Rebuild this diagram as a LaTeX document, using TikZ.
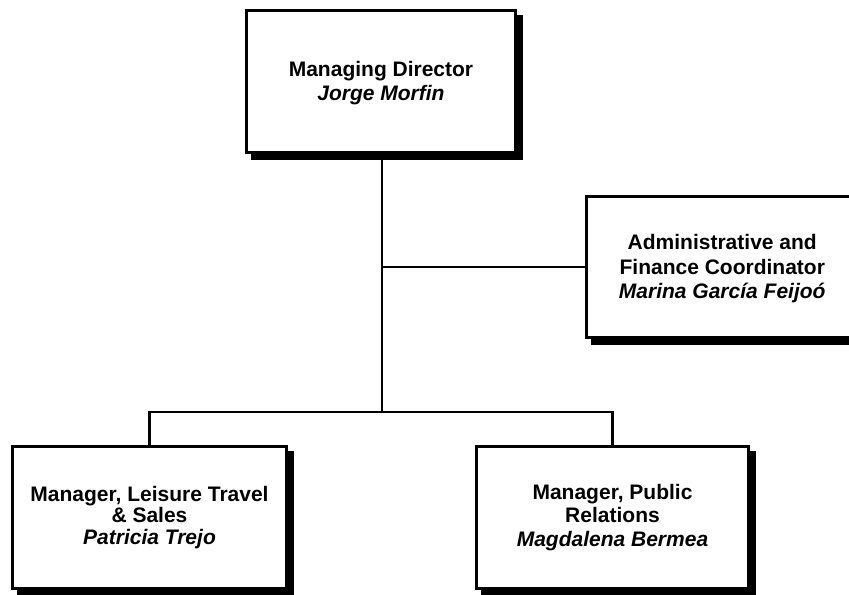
\documentclass[tikz,border=0pt]{standalone}
\usepackage{fontspec}
\setmainfont{Liberation Sans}
\usetikzlibrary{shadows}
\tikzset{
  orgbox/.style={draw=black, fill=white, line width=1.95pt, inner sep=0pt,
    align=center, font=\bfseries\fontsize{15.75pt}{16pt}\selectfont,
    drop shadow={shadow xshift=4.8pt, shadow yshift=-4.8pt, fill=black,
      draw=black, line width=1.95pt, opacity=1}},
  conn/.style={line width=2pt, draw=black}
}
\newcommand{\pname}[1]{{\itshape #1}}
\begin{document}
\begin{tikzpicture}[x=0.75pt,y=-0.75pt]
\useasboundingbox (0,0) rectangle (849,594);
\clip (0,0) rectangle (849,594);
\fill[white] (0,0) rectangle (849,594);
\node[orgbox, minimum width=269.5*0.75pt, minimum height=142.5*0.75pt,
  font=\bfseries\fontsize{15.75pt}{17.6pt}\selectfont]
  (top) at (381,81.5) {\rule{0pt}{14pt}Managing Director\\\pname{Jorge Morfin}};
\node[orgbox, minimum width=272*0.75pt, minimum height=141.5*0.75pt,
  font=\bfseries\fontsize{15.75pt}{18.4pt}\selectfont]
  (adm) at (722.25,267) {\rule{0pt}{14pt}Administrative and\\Finance Coordinator\\\pname{Marina García Feijoó}};
\node[orgbox, minimum width=274.5*0.75pt, minimum height=142.5*0.75pt,
  font=\bfseries\fontsize{15.75pt}{16.3pt}\selectfont]
  (lei) at (149.5,517.5) {Manager, Leisure Travel\\\& Sales\\\pname{Patricia Trejo}};
\node[orgbox, minimum width=272.5*0.75pt, minimum height=142.5*0.75pt,
  font=\bfseries\fontsize{15.75pt}{17.5pt}\selectfont]
  (pr) at (612.5,517.5) {Manager, Public\\Relations\\\pname{Magdalena Bermea}};
\coordinate (bar) at (382,412);
\draw[conn] (top.south -| bar) -- (bar);
\draw[conn] (adm.west) -- (adm.west -| bar);
\draw[conn] (lei.north) |- (bar) -| (pr.north);
\end{tikzpicture}
\end{document}
